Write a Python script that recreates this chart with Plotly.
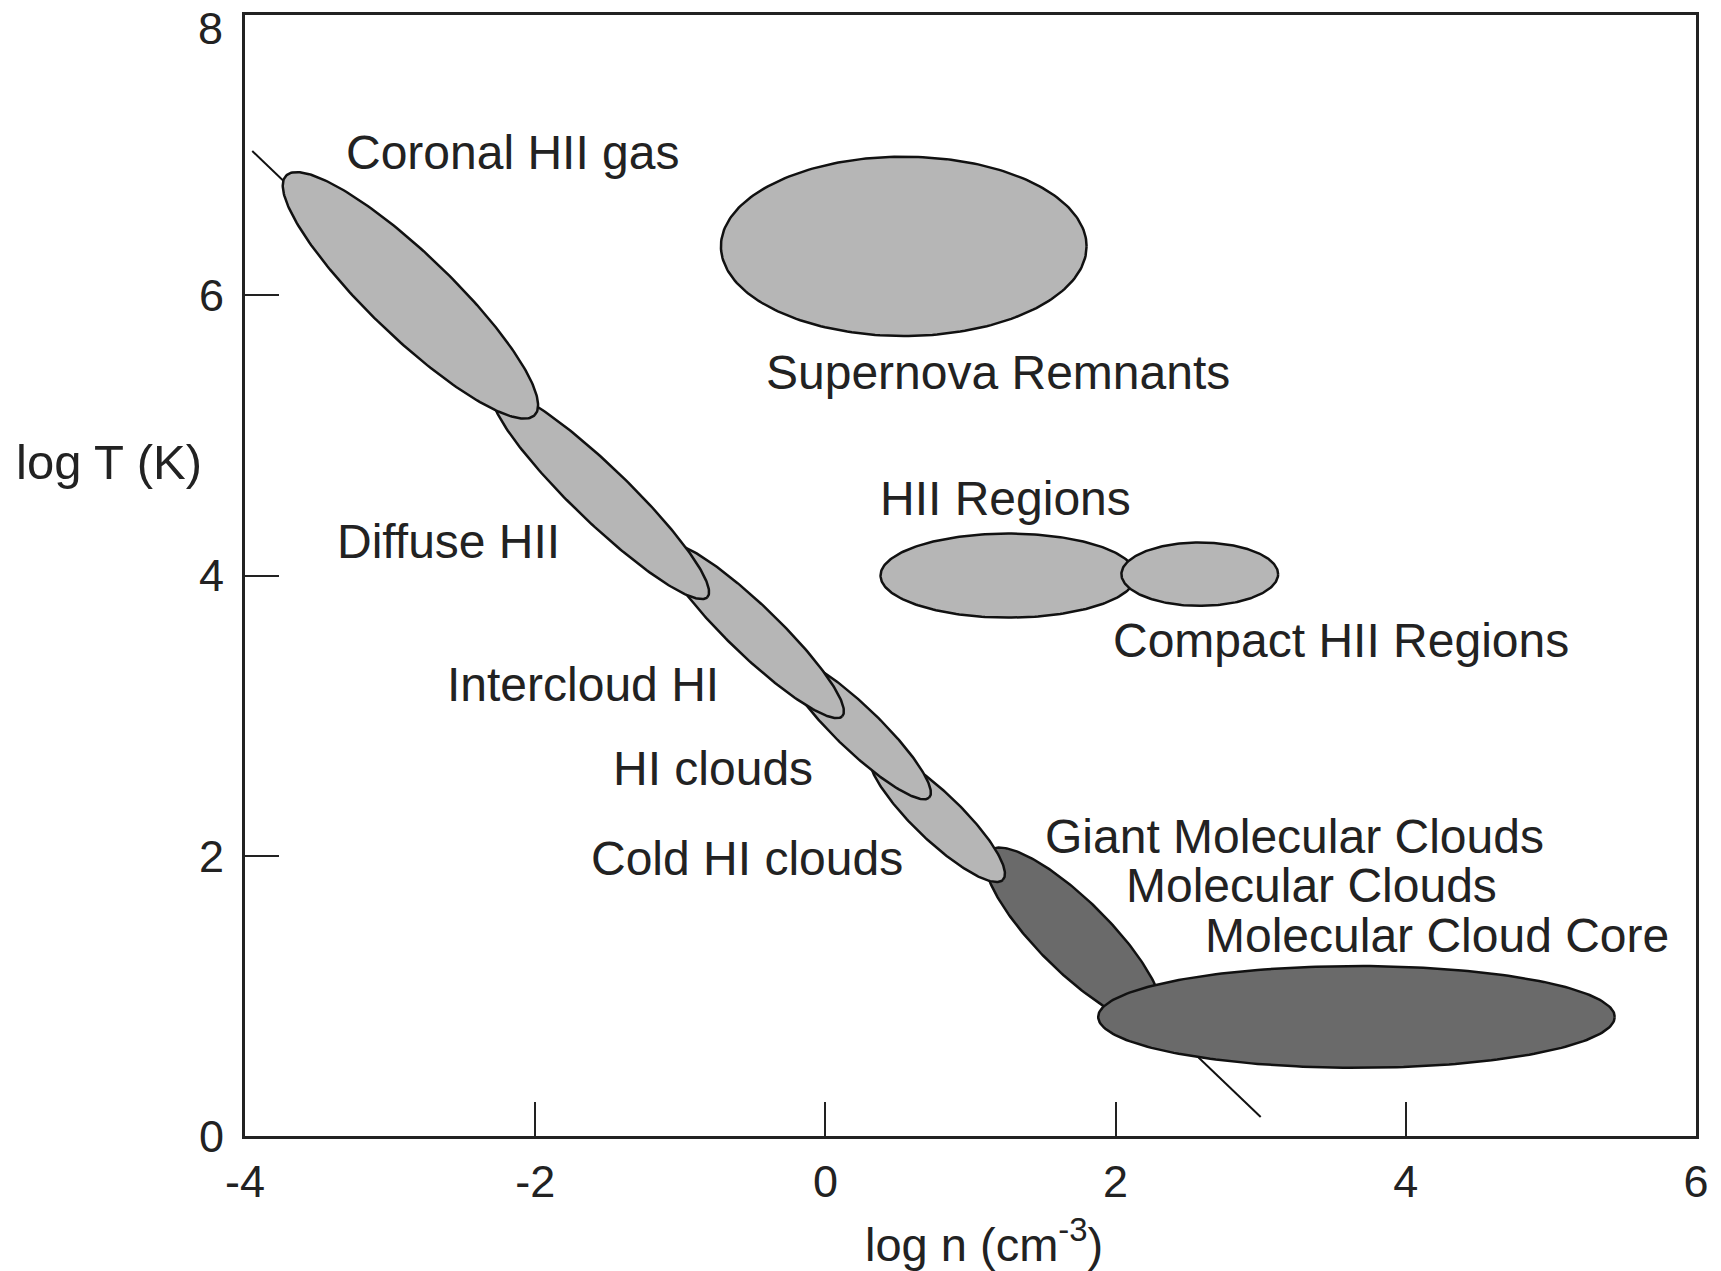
import numpy as np
import plotly.graph_objects as go

# Interstellar medium phases in the log n - log T plane
region_names = ["Supernova Remnants", "HII Regions", "Compact HII Regions",
                "Molecular Clouds", "Molecular Cloud Core", "Cold HI clouds",
                "HI clouds", "Intercloud HI", "Diffuse HII", "Coronal HII gas"]
center_logn = [0.54, 1.26, 2.58, 1.71, 3.66, 0.77, 0.22, -0.50, -1.55, -2.86]
center_logT = [6.35, 4.00, 4.01, 1.43, 0.85, 2.28, 2.91, 3.61, 4.58, 6.00]
semi_major = [1.26, 0.88, 0.54, 0.84, 1.78, 0.64, 0.70, 0.87, 1.04, 1.21]
semi_minor = [0.64, 0.30, 0.226, 0.25, 0.363, 0.165, 0.155, 0.175, 0.195, 0.29]
tilt_deg = [0, 0, 0, -46, 0, -45, -45, -45, -45, -45]
molecular = [False, False, False, True, True, False, False, False, False, False]

# Pressure-equilibrium track
track_logn = [-3.95, 3.00]
track_logT = [7.03, 0.135]

# Text labels
label_text = ["Coronal HII gas", "Supernova Remnants", "HII Regions", "Diffuse HII",
              "Compact HII Regions", "Intercloud HI", "HI clouds", "Cold HI clouds",
              "Giant Molecular Clouds", "Molecular Clouds", "Molecular Cloud Core"]
label_logn = [-3.32, -0.42, 0.36, -3.38, 1.97, -2.62, -1.48, -1.63, 1.50, 2.06, 2.60]
label_logT = [7.02, 5.45, 4.55, 4.24, 3.54, 3.22, 2.62, 1.98, 2.14, 1.79, 1.43]

x_ticks = [-4, -2, 0, 2, 4, 6]
x_tick_text = ["-4", "-2", "0", "2", "4", "6"]
y_ticks = [0, 2, 4, 6, 8]
y_tick_text = ["0", "2", "4", "6", ""]   # top label "8" is placed separately below the frame edge
y_top_label = "8"

LIGHT = "#b6b6b6"
DARK = "#6a6a6a"
FONT = "Arial, Liberation Sans, sans-serif"
TEXT_COLOR = "#222222"

fig = go.Figure()

fig.add_trace(go.Scatter(x=track_logn, y=track_logT, mode="lines",
                         line=dict(color="#111111", width=2), hoverinfo="skip",
                         showlegend=False))

phi = np.linspace(0, 2 * np.pi, 241)
for name, cx, cy, a, b, t, mol in zip(region_names, center_logn, center_logT,
                                      semi_major, semi_minor, tilt_deg, molecular):
    th = np.deg2rad(t)
    px = cx + a * np.cos(phi) * np.cos(th) - b * np.sin(phi) * np.sin(th)
    py = cy + a * np.cos(phi) * np.sin(th) + b * np.sin(phi) * np.cos(th)
    fig.add_trace(go.Scatter(x=px, y=py, mode="lines", fill="toself",
                             fillcolor=DARK if mol else LIGHT,
                             line=dict(color="#111111", width=2.5),
                             name=name, hoverinfo="name", showlegend=False))

for txt, lx, ly in zip(label_text, label_logn, label_logT):
    fig.add_annotation(x=lx, y=ly, text=txt, showarrow=False, xanchor="left",
                       yanchor="middle", font=dict(size=48, color=TEXT_COLOR, family=FONT))

# top y tick label, nudged down so it stays inside the page
fig.add_annotation(x=-0.0135, y=1.0, xref="paper", yref="paper", yshift=-13,
                   text=y_top_label, showarrow=False, xanchor="right", yanchor="middle",
                   font=dict(size=45, color=TEXT_COLOR, family=FONT))

fig.add_annotation(x=0.5095, y=-0.094, xref="paper", yref="paper",
                   text="log n (cm<sup>-3</sup>)", showarrow=False,
                   xanchor="center", yanchor="middle",
                   font=dict(size=47, color=TEXT_COLOR, family=FONT))
fig.add_annotation(x=-0.094, y=0.601, xref="paper", yref="paper",
                   text="log T (K)", showarrow=False,
                   xanchor="center", yanchor="middle",
                   font=dict(size=49, color=TEXT_COLOR, family=FONT))

axis_common = dict(showgrid=False, zeroline=False, showline=True, linewidth=3,
                   linecolor="#222222", mirror=True, ticks="inside", ticklen=34,
                   tickwidth=2, tickcolor="#222222",
                   tickfont=dict(size=45, color=TEXT_COLOR, family=FONT))

fig.update_xaxes(range=[-4, 6], tickvals=x_ticks, ticktext=x_tick_text,
                 ticklabelstandoff=4, **axis_common)
fig.update_yaxes(range=[0, 8.001], tickvals=y_ticks, ticktext=y_tick_text,
                 ticklabelstandoff=9, **axis_common)

fig.update_layout(width=1721, height=1271,
                  margin=dict(l=245, r=21, t=13, b=135),
                  paper_bgcolor="white", plot_bgcolor="white",
                  showlegend=False)

fig.write_html("out.html")
